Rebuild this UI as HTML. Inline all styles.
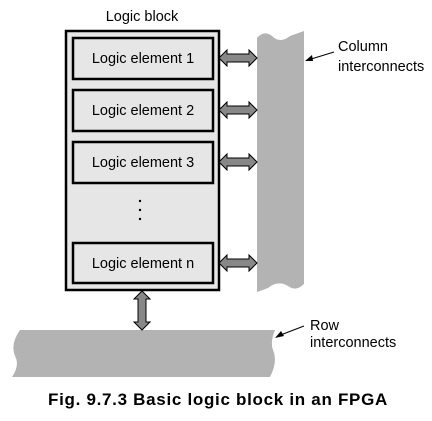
<!DOCTYPE html>
<html><head><style>
body{margin:0;background:#fff;width:432px;height:416px;overflow:hidden}
text{font-family:"Liberation Sans",sans-serif;fill:#000}
</style></head><body>
<svg width="432" height="416" viewBox="0 0 432 416">
<defs>
<g id="ha"><polygon points="0,0 8,-8 8,-4 30,-4 30,-8 38,0 30,8 30,4 8,4 8,8" fill="#888" stroke="#000" stroke-width="1"/></g>
</defs>
<path d="M257,38 Q264,30 272,36 Q280,44 290,36 L304,31 L304,284 Q296,292 288,286 Q278,280 268,288 L257,292 Z" fill="#b3b3b3"/>
<path d="M20,330 L275,330 Q270,342 273,350 Q278,362 270,377 L12,377 Q20,365 15,356 Q10,344 20,330 Z" fill="#b3b3b3"/>
<rect x="66" y="31" width="153" height="259" fill="#e6e6e6" stroke="#000" stroke-width="2.5"/>
<g fill="#e6e6e6" stroke="#000" stroke-width="2.5">
<rect x="73" y="38" width="140" height="41"/>
<rect x="73" y="90" width="140" height="41"/>
<rect x="73" y="142" width="140" height="41"/>
<rect x="73" y="243" width="140" height="40"/>
</g>
<g font-size="14.5" text-anchor="middle">
<text x="143" y="63">Logic element 1</text>
<text x="143" y="115">Logic element 2</text>
<text x="143" y="167">Logic element 3</text>
<text x="143" y="268">Logic element n</text>
<text x="142" y="21">Logic block</text>
</g>
<g fill="#000"><circle cx="140" cy="201" r="1.2"/><circle cx="140" cy="210" r="1.2"/><circle cx="140" cy="219" r="1.2"/></g>
<use href="#ha" x="219" y="58"/>
<use href="#ha" x="219" y="110"/>
<use href="#ha" x="219" y="162"/>
<use href="#ha" x="219" y="263"/>
<polygon points="142,291 150,299 146,299 146,322 150,322 142,330 134,322 138,322 138,299 134,299" fill="#888" stroke="#000" stroke-width="1"/>
<line x1="334" y1="52" x2="308" y2="60" stroke="#000"/>
<polygon points="305,61 312,55 313,61" fill="#000"/>
<line x1="304" y1="326" x2="278" y2="336" stroke="#000"/>
<polygon points="275,338 281,331 284,336" fill="#000"/>
<g font-size="14.5">
<text x="338" y="51">Column</text>
<text x="338" y="71">interconnects</text>
<text x="310" y="330">Row</text>
<text x="310" y="347">interconnects</text>
</g>
<text x="218" y="405" font-size="17" font-weight="bold" letter-spacing="0.7" text-anchor="middle">Fig. 9.7.3 Basic logic block in an FPGA</text>
</svg>
</body></html>
